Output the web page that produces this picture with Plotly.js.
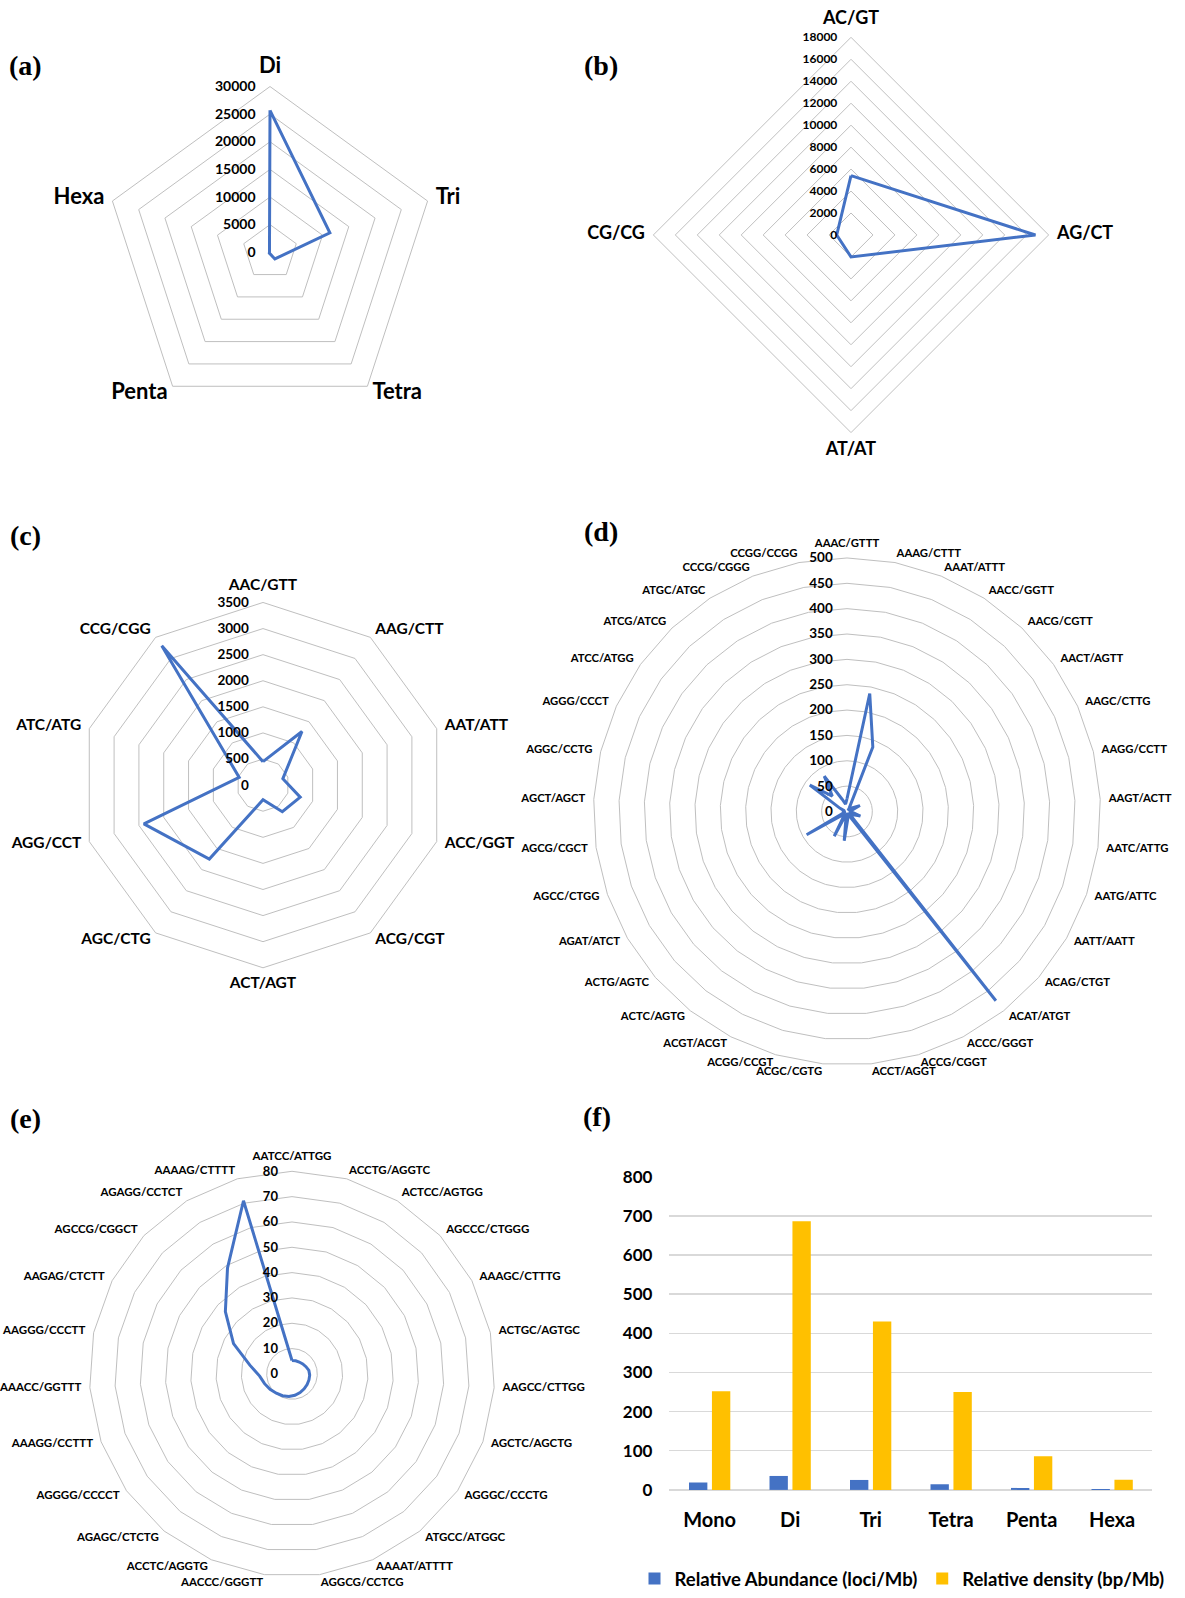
<!DOCTYPE html>
<html>
<head>
<meta charset="utf-8">
<script src="https://cdn.plot.ly/plotly-3.0.1.min.js"></script>
<style>
  html, body { margin: 0; padding: 0; background: #fff; }
  #chart { width: 1185px; height: 1598px; }
</style>
</head>
<body>
<div id="chart"></div>
<script>
// ---------- DATA ----------
const aCats = ["Di", "Tri", "Tetra", "Penta", "Hexa"];
const aVals = [25700, 11400, 1500, 200, 100];

const bCats = ["AC/GT", "AG/CT", "AT/AT", "CG/CG"];
const bVals = [5400, 16800, 2000, 1300];

const cCats = ["AAC/GTT", "AAG/CTT", "AAT/ATT", "ACC/GGT", "ACG/CGT", "ACT/AGT",
               "AGC/CTG", "AGG/CCT", "ATC/ATG", "CCG/CGG"];
const cVals = [450, 1270, 400, 750, 630, 280, 1750, 2400, 480, 3300];

const dCats = ["AAAC/GTTT", "AAAG/CTTT", "AAAT/ATTT", "AACC/GGTT", "AACG/CGTT", "AACT/AGTT",
               "AAGC/CTTG", "AAGG/CCTT", "AAGT/ACTT", "AATC/ATTG", "AATG/ATTC", "AATT/AATT",
               "ACAG/CTGT", "ACAT/ATGT", "ACCC/GGGT", "ACCG/CGGT", "ACCT/AGGT", "ACGC/CGTG",
               "ACGG/CCGT", "ACGT/ACGT", "ACTC/AGTG", "ACTG/AGTC", "AGAT/ATCT", "AGCC/CTGG",
               "AGCG/CGCT", "AGCT/AGCT", "AGGC/CCTG", "AGGG/CCCT", "ATCC/ATGG", "ATCG/ATCG",
               "ATGC/ATGC", "CCCG/CGGG", "CCGG/CCGG"];
const dVals = [25, 237, 137, 8, 3, 12,
               28, 10, 5, 10, 28, 12,
               5, 475, 10, 3, 15, 58,
               5, 55, 8, 10, 92, 5,
               3, 10, 5, 15, 90, 42,
               83, 26, 15];

const eCats = ["AATCC/ATTGG", "ACCTG/AGGTC", "ACTCC/AGTGG", "AGCCC/CTGGG", "AAAGC/CTTTG",
               "ACTGC/AGTGC", "AAGCC/CTTGG", "AGCTC/AGCTG", "AGGGC/CCCTG", "ATGCC/ATGGC",
               "AAAAT/ATTTT", "AGGCG/CCTCG", "AACCC/GGGTT", "ACCTC/AGGTG", "AGAGC/CTCTG",
               "AGGGG/CCCCT", "AAAGG/CCTTT", "AAACC/GGTTT", "AAGGG/CCCTT", "AAGAG/CTCTT",
               "AGCCG/CGGCT", "AGAGG/CCTCT", "AAAAG/CTTTT"];
const eVals = [5.3, 5.4, 5.5, 5.8, 6.2,
               6.8, 7.0, 7.1, 7.3, 7.6,
               8.0, 8.5, 9.0, 9.4, 9.8,
               10.6, 11.5, 12.8, 17, 26,
               36, 49, 71];

const fCats = ["Mono", "Di", "Tri", "Tetra", "Penta", "Hexa"];
const fAbundance = [18.6, 35.6, 25.4, 14.4, 5, 2.5];
const fDensity = [252, 686, 430, 250, 86, 26];
const fSeriesNames = ["Relative Abundance (loci/Mb)", "Relative density (bp/Mb)"];

const panelLetters = ["(a)", "(b)", "(c)", "(d)", "(e)", "(f)"];

// ---------- STYLE / LAYOUT HELPERS ----------
const W = 1185, H = 1598;
const FONT = "Lato, 'Open Sans', 'Liberation Sans', sans-serif";
const LINE = "#4472C4";
const GRID = "#BFBFBF";
const PAD = 9; // px between outer polygon and category labels

function dom(cx, cy, r) {
  return { x: [(cx - r) / W, (cx + r) / W], y: [1 - (cy + r) / H, 1 - (cy - r) / H] };
}
function closed(arr) { return arr.concat([arr[0]]); }

function radarTrace(cats, vals, sub) {
  return {
    type: "scatterpolar", mode: "lines", subplot: sub,
    theta: closed(cats), r: closed(vals),
    line: { color: LINE, width: 3 }, showlegend: false, hoverinfo: "skip"
  };
}

// category labels placed just outside the outer polygon, anchored like Excel does
function labelTrace(cats, max, radiusPx, size, sub) {
  const n = cats.length;
  const pos = cats.map((c, i) => {
    const a = 2 * Math.PI * i / n;
    const s = Math.sin(a), co = Math.cos(a);
    if (s > 0.03) return "middle right";
    if (s < -0.03) return "middle left";
    return co > 0 ? "top center" : "bottom center";
  });
  return {
    type: "scatterpolar", mode: "text", subplot: sub,
    theta: cats, r: cats.map(() => max * (1 + (PAD - 0.5) / radiusPx)),
    text: cats, textposition: pos, cliponaxis: false,
    textfont: { family: FONT, size: size, color: "#000", weight: "bold" },
    showlegend: false, hoverinfo: "skip"
  };
}

function polarLayout(p, cats, max, dtick, radSize) {
  return {
    domain: dom(p.cx, p.cy, p.r + PAD),
    gridshape: "linear",
    bgcolor: "rgba(0,0,0,0)",
    angularaxis: {
      type: "category", categoryarray: cats, rotation: 90, direction: "clockwise",
      showgrid: false, showline: false, ticks: "", showticklabels: false
    },
    radialaxis: {
      range: [0, max * (1 + PAD / p.r)], dtick: dtick, angle: 90, side: "counterclockwise", tickangle: 90,
      tickformat: "d", showline: false, ticks: "outside", ticklen: 9, tickcolor: "rgba(0,0,0,0)",
      gridcolor: GRID, gridwidth: 1,
      tickfont: { family: FONT, size: radSize, color: "#000", weight: "bold" }
    }
  };
}

const P = {
  a: { cx: 270, cy: 252.7, r: 166 },
  b: { cx: 851, cy: 235.4, r: 198 },
  c: { cx: 263, cy: 786.6, r: 183 },
  d: { cx: 847, cy: 813, r: 254 },
  e: { cx: 292, cy: 1376.5, r: 203 }
};

const traces = [
  radarTrace(aCats, aVals, "polar"),
  labelTrace(aCats, 30000, P.a.r, 22, "polar"),
  radarTrace(bCats, bVals, "polar2"),
  labelTrace(bCats, 18000, P.b.r, 18, "polar2"),
  radarTrace(cCats, cVals, "polar3"),
  labelTrace(cCats, 3500, P.c.r, 15.5, "polar3"),
  radarTrace(dCats, dVals, "polar4"),
  labelTrace(dCats, 500, P.d.r, 11.3, "polar4"),
  radarTrace(eCats, eVals, "polar5"),
  labelTrace(eCats, 80, P.e.r, 11.5, "polar5"),
  { type: "bar", x: fCats, y: fAbundance, name: fSeriesNames[0], marker: { color: "#4472C4" },
    xaxis: "x", yaxis: "y", hoverinfo: "skip" },
  { type: "bar", x: fCats, y: fDensity, name: fSeriesNames[1], marker: { color: "#FFC000" },
    xaxis: "x", yaxis: "y", hoverinfo: "skip" }
];

const letterPos = [[25, 66], [601, 66], [25, 537], [601, 532], [25, 1121], [597, 1119]];
const annotations = panelLetters.map((t, i) => ({
  text: t, xref: "paper", yref: "paper",
  x: letterPos[i][0] / W, y: 1 - letterPos[i][1] / H,
  xanchor: "center", yanchor: "middle", showarrow: false,
  font: { family: "'Liberation Serif', 'Times New Roman', serif", size: 28, color: "#000", weight: "bold" }
}));

const layout = {
  width: W, height: H,
  margin: { l: 0, r: 0, t: 0, b: 0 },
  paper_bgcolor: "#fff", plot_bgcolor: "#fff",
  showlegend: true,
  polar:  polarLayout(P.a, aCats, 30000, 5000, 14),
  polar2: polarLayout(P.b, bCats, 18000, 2000, 12),
  polar3: polarLayout(P.c, cCats, 3500, 500, 13.5),
  polar4: polarLayout(P.d, dCats, 500, 50, 13.5),
  polar5: polarLayout(P.e, eCats, 80, 10, 13),
  xaxis: {
    domain: [669.4 / W, 1152.4 / W], anchor: "y",
    type: "category", showline: false, ticks: "", showgrid: false, ticklabelstandoff: 16,
    tickfont: { family: FONT, size: 20, color: "#000", weight: "bold" }
  },
  yaxis: {
    domain: [1 - 1492.7 / H, 1 - 1178.9 / H], anchor: "x",
    range: [0, 800], dtick: 100, showline: false, ticks: "", ticklabelstandoff: 16,
    gridcolor: "#D9D9D9", gridwidth: 1.5, zeroline: true, zerolinecolor: "#D9D9D9", zerolinewidth: 1.5,
    tickfont: { family: FONT, size: 17, color: "#000", weight: "bold" }
  },
  barmode: "group", bargap: 0.43, bargroupgap: 0.2,
  legend: {
    orientation: "h", x: 902 / W, xanchor: "center", y: 1 - 1582 / H, yanchor: "middle",
    font: { family: FONT, size: 18.5, color: "#000", weight: "bold" },
    itemwidth: 30, bgcolor: "rgba(0,0,0,0)"
  },
  annotations: annotations
};

Plotly.newPlot("chart", traces, layout, { staticPlot: true, displayModeBar: false });
</script>
</body>
</html>
